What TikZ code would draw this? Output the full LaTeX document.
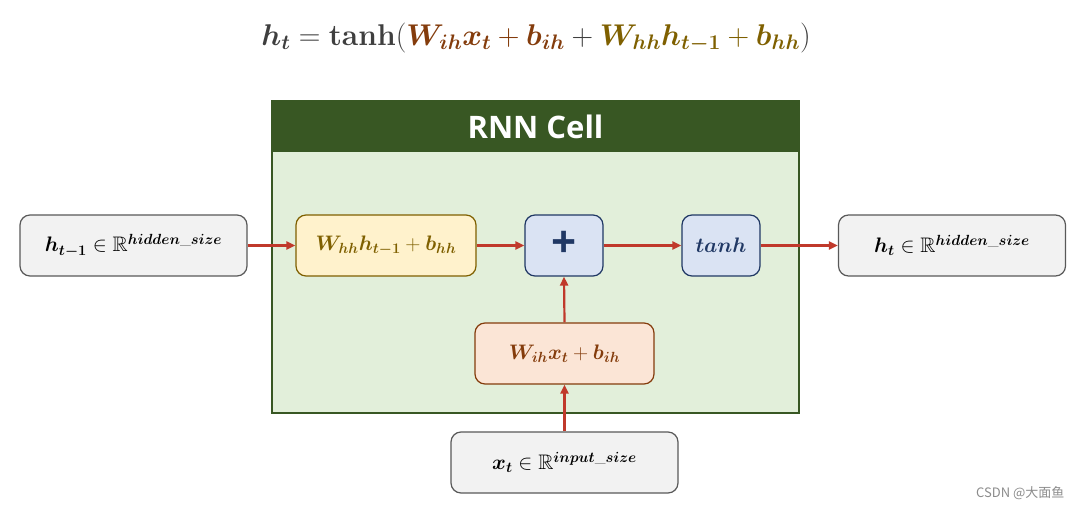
\RequirePackage{fix-cm}
\documentclass[tikz,border=0pt]{standalone}
\usepackage{amsmath,amssymb,bm}
\usepackage{fontspec}
\newfontfamily\titlefont{Open Sans}
\newfontfamily\cjk{Noto Sans CJK SC}
\usetikzlibrary{arrows.meta}
\definecolor{cellgreen}{HTML}{385723}
\definecolor{cellbg}{HTML}{E2EFDA}
\definecolor{grayfill}{HTML}{F2F2F2}
\definecolor{grayline}{HTML}{595959}
\definecolor{yelfill}{HTML}{FFF2CC}
\definecolor{olive}{HTML}{7F6000}
\definecolor{bluefill}{HTML}{DAE3F3}
\definecolor{navy}{HTML}{203864}
\definecolor{orfill}{HTML}{FBE5D6}
\definecolor{brownc}{HTML}{843C0C}
\definecolor{arrowred}{HTML}{C0392B}
\definecolor{fgray}{HTML}{3F3F3F}
\tikzset{
  box/.style={draw, rounded corners=10pt, line width=1.2pt, inner sep=0pt, minimum height=61pt, font=\fontsize{21}{24}\selectfont},
  iobox/.style={box, fill=grayfill, draw=grayline, minimum width=227pt},
  yelbox/.style={box, fill=yelfill, draw=olive, text=olive, minimum width=180pt},
  opbox/.style={box, fill=bluefill, draw=navy, text=navy, minimum width=78pt},
  orbox/.style={box, fill=orfill, draw=brownc, text=brownc, minimum width=179pt},
  arr/.style={draw=arrowred, line width=2.2pt, -{Triangle[length=9pt,width=8pt]}},
}
\begin{document}
\begin{tikzpicture}[x=1pt,y=-1pt]
\path[use as bounding box, fill=white] (0,0) rectangle (1084,510);
% formula
\node[font=\fontsize{30}{34}\selectfont, text=fgray] (formula) at (536,38)
  {$\boldsymbol{h_t} = \textbf{tanh}(\textcolor{brownc}{\boldsymbol{W_{ih}x_t} + \boldsymbol{b_{ih}}} + \textcolor{olive}{\boldsymbol{W_{hh}h_{t-1}} + \boldsymbol{b_{hh}}})$};
% cell
\node[draw=cellgreen, line width=2.5pt, fill=cellbg, minimum width=527pt, minimum height=312pt, inner sep=0pt] (cell) at (535.5,257) {};
\node[fill=cellgreen, minimum width=527pt, minimum height=51pt, inner sep=0pt, text=white, font=\titlefont\bfseries\fontsize{31}{34}\selectfont] (head) at (535.5,126.5) {RNN Cell};
% boxes
\node[iobox] (hprev) at (133.5,245.5) {$\boldsymbol{h_{t-1}} \in \mathbb{R}^{\boldsymbol{hidden\_size}}$};
\node[yelbox] (whh) at (386,245.5) {$\boldsymbol{W_{hh}h_{t-1}} + \boldsymbol{b_{hh}}$};
\node[opbox, font=\titlefont\bfseries\fontsize{44}{44}\selectfont] (plus) at (564,245.5) {\raisebox{2pt}{+}};
\node[opbox] (tanh) at (721,245.5) {$\boldsymbol{tanh}$};
\node[iobox] (ht) at (952,245.5) {$\boldsymbol{h_{t}} \in \mathbb{R}^{\boldsymbol{hidden\_size}}$};
\node[orbox] (wih) at (564.5,353.5) {$\boldsymbol{W_{ih}x_t} + \boldsymbol{b_{ih}}$};
\node[iobox] (xt) at (564.5,462.5) {$\boldsymbol{x_{t}} \in \mathbb{R}^{\boldsymbol{input\_size}}$};
% arrows
\draw[arr] (hprev.east) -- (whh.west);
\draw[arr] (whh.east) -- (plus.west);
\draw[arr] (plus.east) -- (tanh.west);
\draw[arr] (tanh.east) -- (ht.west);
\draw[arr] (wih.north) -- (plus.south);
\draw[arr] (xt.north) -- (wih.south);
% watermark
\node[anchor=east, text=black!45, font=\cjk\fontsize{13}{15}\selectfont] (wm) at (1068,493) {CSDN @大面鱼};
\end{tikzpicture}
\end{document}
